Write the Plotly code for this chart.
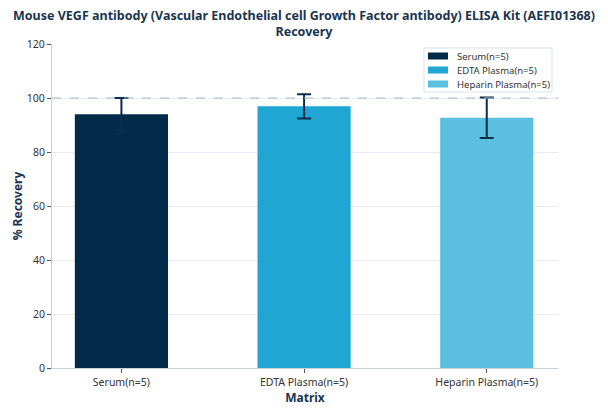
import plotly.graph_objects as go

# recovery per sample matrix
matrices = ["Serum(n=5)", "EDTA Plasma(n=5)", "Heparin Plasma(n=5)"]
recovery = [94.0, 96.9, 92.7]
recovery_sd = [6.0, 4.5, 7.5]
colors = ["#022b4b", "#1fa6d3", "#5bbfe0"]

W, H = 608, 410
L, R, T, B = 52, 50, 44, 42

def px(x):
    # page pixel -> paper x
    return (x - L) / (W - L - R)

def py(y):
    return (H - B - y) / (H - T - B)

fig = go.Figure()
for name, val, sd, col in zip(matrices, recovery, recovery_sd, colors):
    fig.add_trace(go.Bar(x=[name], y=[val], name=name,
                         marker=dict(color=col, line=dict(width=0)),
                         width=0.51, showlegend=False,
                         error_y=dict(type='data', array=[sd], visible=True,
                                      color="#0b2d4c", thickness=2, width=7)))

fig.add_hline(y=100, line=dict(color="#9fbccc", width=1, dash="dash"))

# legend box drawn by hand so rows sit close like the original
fig.add_shape(type="rect", xref="paper", yref="paper",
              x0=px(424), x1=px(552), y0=py(92), y1=py(48),
              line=dict(color="#dde3e8", width=1), fillcolor="white")
for i, (name, col) in enumerate(zip(matrices, colors)):
    yc = 56 + 14 * i
    fig.add_shape(type="rect", xref="paper", yref="paper",
                  x0=px(428), x1=px(448), y0=py(yc + 3.5), y1=py(yc - 3.5),
                  line=dict(width=0), fillcolor=col)
    fig.add_annotation(x=px(455), y=py(yc), xref="paper", yref="paper",
                       text=name, showarrow=False, xanchor="left", yanchor="middle",
                       font=dict(size=9.5, color="#333333"))

fig.update_layout(
    width=W, height=H,
    barmode='overlay',
    font=dict(family="Noto Sans", size=10.5, color="#333333"),
    title=dict(text="<b>Mouse VEGF antibody (Vascular Endothelial cell Growth Factor antibody) ELISA Kit (AEFI01368)<br>Recovery</b>",
               x=0.5, xanchor='center', y=0.951, yanchor='middle',
               font=dict(size=12.5, color="#1a3550")),
    margin=dict(l=L, r=R, t=T, b=B),
    plot_bgcolor="white", paper_bgcolor="white",
    showlegend=False,
    xaxis=dict(title=dict(text="<b>Matrix</b>", font=dict(size=12, color="#1a3550"), standoff=4),
               range=[-0.38, 2.39], showline=True, linecolor="#c8d0d8", automargin=False,
               ticks="outside", ticklen=4, tickcolor="#555555", showgrid=False),
    yaxis=dict(title=dict(text="<b>% Recovery</b>", font=dict(size=12, color="#1a3550"), standoff=1),
               range=[0, 120], dtick=20, showline=True, linecolor="#c8d0d8", automargin=True,
               ticks="outside", ticklen=4, tickcolor="#555555",
               showgrid=True, gridcolor="#e6eaee", zeroline=False),
)

fig.write_html("out.html", config={"displayModeBar": False},
               post_script="document.body.style.margin='0';")
